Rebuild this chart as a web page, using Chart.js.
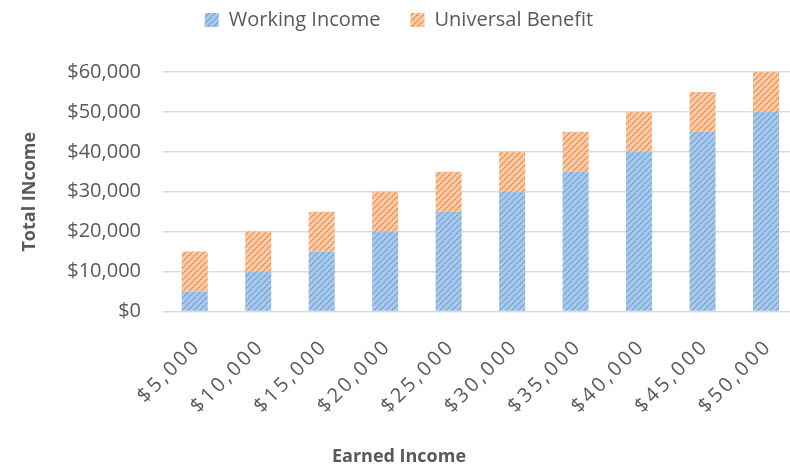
<!DOCTYPE html>
<html>
<head>
<meta charset="utf-8">
<script src="https://cdn.jsdelivr.net/npm/chart.js@4"></script>
<style>
  html, body { margin: 0; padding: 0; background: #fff; overflow: hidden; }
  #wrap { width: 798px; height: 468px; }
</style>
</head>
<body>
<div id="wrap"><canvas id="income-chart"></canvas></div>
<script>
var categories    = ['$5,000', '$10,000', '$15,000', '$20,000', '$25,000', '$30,000', '$35,000', '$40,000', '$45,000', '$50,000'];
var workingIncome = [5000, 10000, 15000, 20000, 25000, 30000, 35000, 40000, 45000, 50000];
var benefit       = [10000, 10000, 10000, 10000, 10000, 10000, 10000, 10000, 10000, 10000];

// Light fill crossed by dotted diagonal strokes
function hatch(light, dark) {
	var size = 6;
	var c    = document.createElement('canvas');
	c.width  = size;
	c.height = size;
	var g = c.getContext('2d');
	g.fillStyle = light;
	g.fillRect(0, 0, size, size);
	g.fillStyle = dark;
	for (var i = 0; i < size; i++) {
		g.globalAlpha = (i % 2 == 0) ? 1 : 0.6;
		g.fillRect(i, size - 1 - i, 1, 1);
		g.globalAlpha = 0.35;
		g.fillRect((i + 1) % size, size - 1 - i, 1, 1);
	}
	g.globalAlpha = 1;
	return g.createPattern(c, 'repeat');
}

// Wider glyph spacing on the category labels
var spacedLabels = {
	id: 'spacedLabels',
	afterLayout: function(chart) {
		var scale = chart.scales.x;
		if (scale._spaced) {return;}
		var draw = scale.drawLabels;
		scale.drawLabels = function(area) {
			chart.ctx.save();
			chart.ctx.letterSpacing = '3px';
			draw.call(this, area);
			chart.ctx.restore();
		};
		scale._spaced = true;
	}
};

// Extra room between the legend and the plot
var legendGap = {
	id: 'legendGap',
	beforeInit: function(chart) {
		var fit = chart.legend.fit;
		chart.legend.fit = function() {
			fit.call(this);
			this.height += 32;
		};
	}
};

var ctx  = document.getElementById('income-chart').getContext('2d');
var font = "'Open Sans', sans-serif";
var grey = '#595959';

new Chart(ctx, {
	type: 'bar',
	plugins: [spacedLabels, legendGap],
	data: {
		labels: categories,
		datasets: [
			{label: 'Working Income',    data: workingIncome, backgroundColor: hatch('#a9c8ea', '#5b9bd5'), borderWidth: 0},
			{label: 'Universal Benefit', data: benefit,       backgroundColor: hatch('#f9caa7', '#ed7d31'), borderWidth: 0}
		]
	},
	options: {
		responsive:          true,
		maintainAspectRatio: false,
		animation:           false,
		layout: {padding: {left: 0, right: 0, top: -20, bottom: 0}},
		datasets: {bar: {barPercentage: 0.41, categoryPercentage: 1}},
		plugins: {
			tooltip: {enabled: false},
			legend: {
				position: 'top',
				labels: {
					boxWidth: 14, boxHeight: 14, padding: 30,
					color: grey, font: {family: font, size: 20}
				}
			},
			title: {
				display: true, position: 'bottom', text: 'Earned Income',
				color: grey, font: {family: font, size: 18, weight: 'bold'},
				padding: {top: 35, bottom: 0}
			}
		},
		scales: {
			x: {
				stacked: true,
				grid: {display: false},
				border: {color: '#d9d9d9'},
				afterFit: function(scale) {scale.height = 100;},
				ticks: {
					color: grey, font: {family: font, size: 20},
					maxRotation: 45, minRotation: 45, padding: 15, labelOffset: 3
				}
			},
			y: {
				stacked: true,
				min: 0, max: 60000,
				afterFit: function(scale) {scale.width = 163;},
				grid: {color: '#dadada', lineWidth: 1.5, drawTicks: false},
				border: {display: false},
				ticks: {
					stepSize: 10000, padding: 22,
					color: grey, font: {family: font, size: 20},
					callback: function(v) {return '$' + v.toLocaleString('en-US');}
				},
				title: {
					display: true, text: 'Total INcome',
					color: grey, font: {family: font, size: 18, weight: 'bold'},
					padding: {top: 19, bottom: 0}
				}
			}
		}
	}
});
</script>
</body>
</html>
